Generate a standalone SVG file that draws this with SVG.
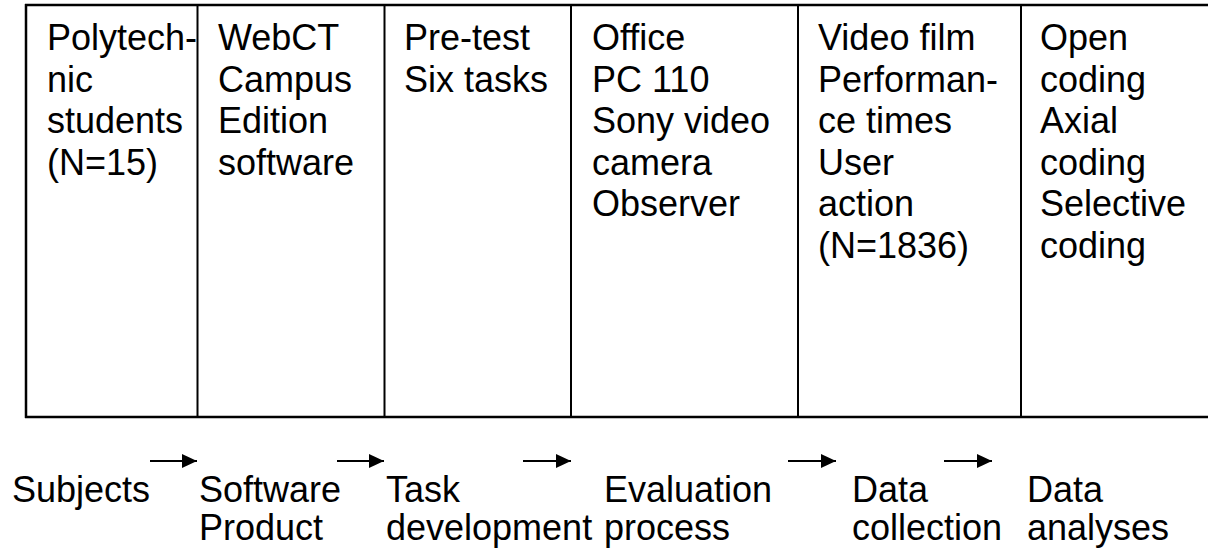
<svg xmlns="http://www.w3.org/2000/svg" width="1208" height="548" viewBox="0 0 1208 548">
  <style>
    .t { font-family: "Liberation Sans", Arial, sans-serif; font-size: 36px; fill: #000; }
    .rule { stroke: #000; stroke-width: 2; fill: none; }
    .edge { stroke: #000; stroke-width: 2.5; fill: none; }
    .flow { stroke: #000; stroke-width: 2; fill: none; marker-end: url(#head); }
  </style>
  <defs>
    <marker id="head" viewBox="0 0 15 14" refX="15" refY="7" markerWidth="15" markerHeight="14" markerUnits="userSpaceOnUse" orient="auto">
      <path d="M0,0 L15,7 L0,14 Z" fill="#000"/>
    </marker>
  </defs>
  <rect width="1208" height="548" fill="#fff"/>

  <!-- table frame -->
  <g id="table-frame">
    <line class="edge" x1="25" y1="5" x2="1208" y2="5"/>
    <line class="edge" x1="25" y1="417" x2="1208" y2="417"/>
    <line class="edge" x1="26" y1="4" x2="26" y2="418"/>
    <line class="rule" x1="197.5" y1="5" x2="197.5" y2="417"/>
    <line class="rule" x1="384.5" y1="5" x2="384.5" y2="417"/>
    <line class="rule" x1="571" y1="5" x2="571" y2="417"/>
    <line class="rule" x1="798" y1="5" x2="798" y2="417"/>
    <line class="rule" x1="1021" y1="5" x2="1021" y2="417"/>
  </g>

  <!-- column contents -->
  <g id="col-subjects">
    <text class="t" x="47" y="50">Polytech-</text>
    <text class="t" x="47" y="91.5">nic</text>
    <text class="t" x="47" y="133">students</text>
    <text class="t" x="47" y="174.5">(N=15)</text>
  </g>
  <g id="col-software">
    <text class="t" x="218" y="50">WebCT</text>
    <text class="t" x="218" y="91.5">Campus</text>
    <text class="t" x="218" y="133">Edition</text>
    <text class="t" x="218" y="174.5">software</text>
  </g>
  <g id="col-task">
    <text class="t" x="404" y="50">Pre-test</text>
    <text class="t" x="404" y="91.5">Six tasks</text>
  </g>
  <g id="col-evaluation">
    <text class="t" x="592" y="50">Office</text>
    <text class="t" x="592" y="91.5">PC 110</text>
    <text class="t" x="592" y="133">Sony video</text>
    <text class="t" x="592" y="174.5">camera</text>
    <text class="t" x="592" y="216">Observer</text>
  </g>
  <g id="col-collection">
    <text class="t" x="818" y="50">Video film</text>
    <text class="t" x="818" y="91.5">Performan-</text>
    <text class="t" x="818" y="133">ce times</text>
    <text class="t" x="818" y="174.5">User</text>
    <text class="t" x="818" y="216">action</text>
    <text class="t" x="818" y="257.5">(N=1836)</text>
  </g>
  <g id="col-analyses">
    <text class="t" x="1040" y="50">Open</text>
    <text class="t" x="1040" y="91.5">coding</text>
    <text class="t" x="1040" y="133">Axial</text>
    <text class="t" x="1040" y="174.5">coding</text>
    <text class="t" x="1040" y="216">Selective</text>
    <text class="t" x="1040" y="257.5">coding</text>
  </g>

  <!-- process steps -->
  <g id="step-subjects">
    <text class="t" x="12" y="502">Subjects</text>
  </g>
  <g id="step-software">
    <text class="t" x="199" y="502">Software</text>
    <text class="t" x="199" y="540">Product</text>
  </g>
  <g id="step-task">
    <text class="t" x="386" y="502">Task</text>
    <text class="t" x="386" y="540">development</text>
  </g>
  <g id="step-evaluation">
    <text class="t" x="604" y="502">Evaluation</text>
    <text class="t" x="604" y="540">process</text>
  </g>
  <g id="step-collection">
    <text class="t" x="852" y="502">Data</text>
    <text class="t" x="852" y="540">collection</text>
  </g>
  <g id="step-analyses">
    <text class="t" x="1027" y="502">Data</text>
    <text class="t" x="1027" y="540">analyses</text>
  </g>

  <!-- connectors -->
  <g id="connectors">
    <line class="flow" x1="150" y1="461" x2="197" y2="461"/>
    <line class="flow" x1="337" y1="461" x2="384" y2="461"/>
    <line class="flow" x1="523" y1="461" x2="571" y2="461"/>
    <line class="flow" x1="788" y1="461" x2="836" y2="461"/>
    <line class="flow" x1="944" y1="461" x2="992" y2="461"/>
  </g>
</svg>
